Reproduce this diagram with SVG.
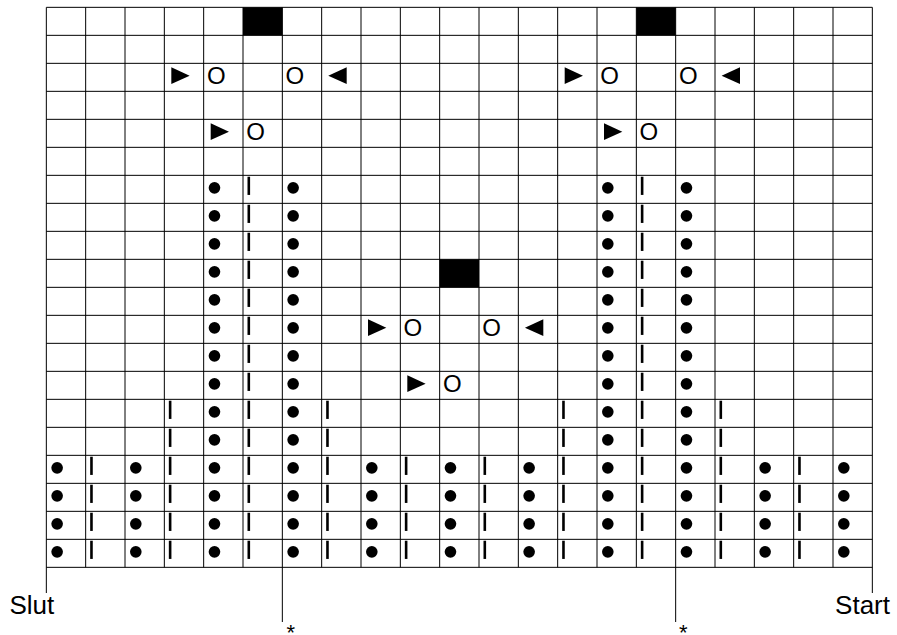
<svg xmlns="http://www.w3.org/2000/svg" xmlns:xlink="http://www.w3.org/1999/xlink" width="897" height="635" viewBox="0 0 897 635">
<style>
.grid{stroke:#000;stroke-width:1;fill:none}
.sym{fill:#000}
.o{font-family:"Liberation Sans",Arial,sans-serif;font-size:24px;fill:#000}
.lbl{font-family:"Liberation Sans",Arial,sans-serif;font-size:26px;fill:#000}
.star{font-family:"Liberation Sans",Arial,sans-serif;font-size:22px;fill:#000}
</style>
<defs>
<circle id="dot" cx="10.8" cy="12.5" r="5.8"/>
<rect id="bar" x="4.5" y="1.4" width="2.6" height="18.2"/>
<polygon id="tr" points="7,4 7,20.7 25.3,12.3"/>
<polygon id="tl" points="25,4 25,20.7 6.6,12.3"/>
<rect id="blk" width="39.33" height="28"/>
<g id="rowA">
<use href="#dot" x="203.67"/><use href="#bar" x="243"/><use href="#dot" x="282.33"/>
<use href="#dot" x="597"/><use href="#bar" x="636.33"/><use href="#dot" x="675.67"/>
</g>
<g id="rowB">
<use href="#rowA"/>
<use href="#bar" x="164.33"/><use href="#bar" x="321.67"/><use href="#bar" x="557.67"/><use href="#bar" x="715"/>
</g>
<g id="rowC">
<use href="#rowB"/>
<use href="#dot" x="46.33"/><use href="#bar" x="85.67"/><use href="#dot" x="125"/>
<use href="#dot" x="361"/><use href="#bar" x="400.33"/><use href="#dot" x="439.67"/><use href="#bar" x="479"/><use href="#dot" x="518.33"/>
<use href="#dot" x="754.33"/><use href="#bar" x="793.67"/><use href="#dot" x="833"/>
</g>
</defs>
<rect width="897" height="635" fill="#fff"/>
<g id="grid" class="grid">
<path d="M46.33 7.33H872.33M46.33 35.33H872.33M46.33 63.33H872.33M46.33 91.33H872.33M46.33 119.33H872.33M46.33 147.33H872.33M46.33 175.33H872.33M46.33 203.33H872.33M46.33 231.33H872.33M46.33 259.33H872.33M46.33 287.33H872.33M46.33 315.33H872.33M46.33 343.33H872.33M46.33 371.33H872.33M46.33 399.33H872.33M46.33 427.33H872.33M46.33 455.33H872.33M46.33 483.33H872.33M46.33 511.33H872.33M46.33 539.33H872.33M46.33 567.33H872.33"/>
<path d="M46.33 7.33V593M85.67 7.33V567.33M125 7.33V567.33M164.33 7.33V567.33M203.67 7.33V567.33M243 7.33V567.33M282.33 7.33V622M321.67 7.33V567.33M361 7.33V567.33M400.33 7.33V567.33M439.67 7.33V567.33M479 7.33V567.33M518.33 7.33V567.33M557.67 7.33V567.33M597 7.33V567.33M636.33 7.33V567.33M675.67 7.33V622M715 7.33V567.33M754.33 7.33V567.33M793.67 7.33V567.33M833 7.33V567.33M872.33 7.33V593"/>
</g>
<g id="blocks" class="sym">
<use href="#blk" x="243" y="7.33"/>
<use href="#blk" x="636.33" y="7.33"/>
<use href="#blk" x="439.67" y="259.33"/>
</g>
<g id="decreases" class="sym">
<use href="#tr" x="164.33" y="63.33"/><use href="#tl" x="321.67" y="63.33"/>
<use href="#tr" x="557.67" y="63.33"/><use href="#tl" x="715" y="63.33"/>
<use href="#tr" x="203.67" y="119.33"/><use href="#tr" x="597" y="119.33"/>
<use href="#tr" x="361" y="315.33"/><use href="#tl" x="518.33" y="315.33"/>
<use href="#tr" x="400.33" y="371.33"/>
</g>
<g id="yarnovers" class="o">
<text x="206.9" y="83.7">O</text><text x="285.5" y="83.7">O</text>
<text x="600.2" y="83.7">O</text><text x="678.9" y="83.7">O</text>
<text x="246.2" y="139.7">O</text><text x="639.5" y="139.7">O</text>
<text x="403.5" y="335.7">O</text><text x="482.2" y="335.7">O</text>
<text x="442.9" y="391.7">O</text>
</g>
<g id="stitches" class="sym">
<use href="#rowA" y="175.33"/><use href="#rowA" y="203.33"/><use href="#rowA" y="231.33"/><use href="#rowA" y="259.33"/>
<use href="#rowA" y="287.33"/><use href="#rowA" y="315.33"/><use href="#rowA" y="343.33"/><use href="#rowA" y="371.33"/>
<use href="#rowB" y="399.33"/><use href="#rowB" y="427.33"/>
<use href="#rowC" y="455.33"/><use href="#rowC" y="483.33"/><use href="#rowC" y="511.33"/><use href="#rowC" y="539.33"/>
</g>
<g id="labels">
<text class="lbl" x="9.5" y="614">Slut</text>
<text class="lbl" x="835.1" y="613.5">Start</text>
<text class="star" x="286.5" y="639.5">*</text>
<text class="star" x="679" y="639.5">*</text>
</g>
</svg>
